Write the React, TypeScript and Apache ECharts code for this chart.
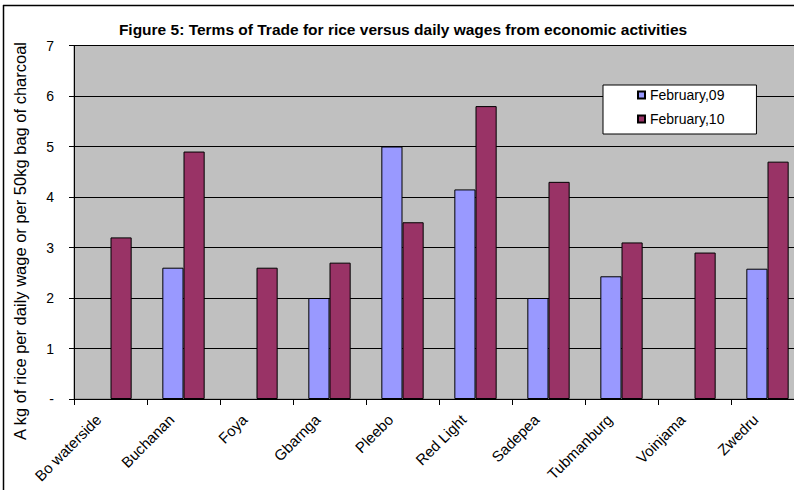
import React, { useEffect, useRef } from "react";
import * as echarts from "echarts";

const categories = [
  "Bo waterside",
  "Buchanan",
  "Foya",
  "Gbarnga",
  "Pleebo",
  "Red Light",
  "Sadepea",
  "Tubmanburg",
  "Voinjama",
  "Zwedru",
];
const seriesNames = ["February,09", "February,10"];
const feb09: (number | null)[] = [null, 2.6, null, 2.0, 5.0, 4.15, 2.0, 2.43, null, 2.58];
const feb10: (number | null)[] = [3.2, 4.9, 2.6, 2.7, 3.5, 5.8, 4.3, 3.1, 2.9, 4.7];
const yMin = 0;
const yMax = 7;
const yInterval = 1;
const titleText = "Figure 5: Terms of Trade for rice versus daily wages from economic activities";
const yAxisName = "A kg of rice per daily wage or per 50kg bag of charcoal";

const FONT = "'Liberation Sans', Arial, sans-serif";

export default function App() {
  const ref = useRef<HTMLDivElement>(null);
  useEffect(() => {
    if (!ref.current) return;
    const chart = echarts.init(ref.current, null, { renderer: "svg" });
    chart.setOption({
      animation: false,
      textStyle: { fontFamily: FONT, color: "#000" },
      title: {
        text: titleText,
        left: 403,
        top: 21,
        textAlign: "center",
        padding: 0,
        textStyle: { fontSize: 15.5, fontWeight: "bold", color: "#000", fontFamily: FONT },
      },
      legend: {
        orient: "vertical",
        left: 603,
        top: 85,
        padding: [3, 32, 8, 34],
        itemGap: 10,
        itemWidth: 7,
        itemHeight: 7,
        icon: "rect",
        backgroundColor: "#fff",
        borderColor: "#000",
        borderWidth: 1,
        borderRadius: 0,
        textStyle: { fontSize: 14, lineHeight: 14, color: "#000", fontFamily: FONT },
        data: seriesNames,
      },
      grid: {
        left: 74,
        top: 45.5,
        width: 730,
        height: 353.5,
        containLabel: false,
        outerBoundsMode: "none",
        show: true,
        backgroundColor: "#C0C0C0",
        borderColor: "#808080",
        borderWidth: 1,
      },
      xAxis: {
        type: "category",
        data: categories,
        axisLine: { show: true, lineStyle: { color: "#000", width: 1 } },
        axisTick: { show: true, length: 6, lineStyle: { color: "#000" } },
        axisLabel: {
          rotate: 45,
          interval: 0,
          margin: 6,
          padding: [0, 17, 0, 0],
          fontSize: 15,
          color: "#000",
          fontFamily: FONT,
        },
        splitLine: { show: false },
      },
      yAxis: {
        type: "value",
        min: yMin,
        max: yMax,
        interval: yInterval,
        axisLine: { show: true, lineStyle: { color: "#000", width: 1 } },
        axisTick: { show: true, length: 5, lineStyle: { color: "#000" } },
        axisLabel: {
          formatter: (v: number) => (v === 0 ? "-" : String(v)),
          fontSize: 14,
          margin: 20,
          color: "#000",
          fontFamily: FONT,
        },
        splitLine: { show: true, lineStyle: { color: "#000", width: 1 } },
      },
      series: [
        {
          name: seriesNames[0],
          type: "bar",
          data: feb09,
          barGap: "0%",
          barCategoryGap: "42%",
          itemStyle: { color: "#9999FF", borderColor: "#000", borderWidth: 1 },
        },
        {
          name: seriesNames[1],
          type: "bar",
          data: feb10,
          barGap: "0%",
          barCategoryGap: "42%",
          itemStyle: { color: "#993366", borderColor: "#000", borderWidth: 1 },
        },
      ],
      graphic: [
        {
          type: "text",
          x: 20,
          y: 241,
          rotation: Math.PI / 2,
          style: {
            text: yAxisName,
            fontSize: 16.5,
            fontFamily: FONT,
            fill: "#000",
            textAlign: "center",
            textVerticalAlign: "middle",
            align: "center",
            verticalAlign: "middle",
          },
        },
        {
          type: "line",
          shape: { x1: 3, y1: 5.5, x2: 794, y2: 5.5 },
          style: { stroke: "#000", lineWidth: 1.5 },
        },
        {
          type: "line",
          shape: { x1: 3.5, y1: 5, x2: 3.5, y2: 490 },
          style: { stroke: "#000", lineWidth: 1.5 },
        },
      ],
    });
    return () => chart.dispose();
  }, []);
  return (
    <div
      ref={ref}
      style={{ position: "absolute", left: 0, top: 0, width: 794, height: 490 }}
    />
  );
}
